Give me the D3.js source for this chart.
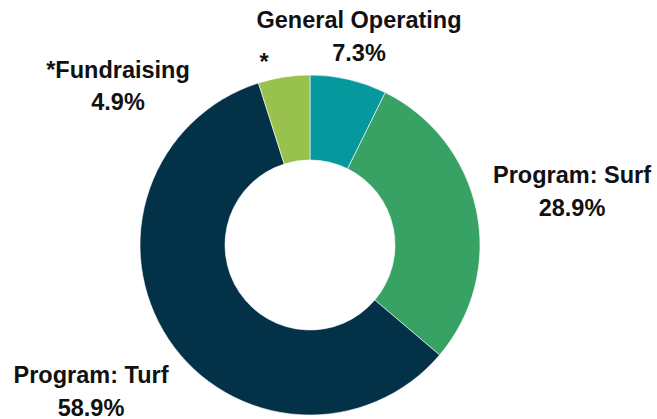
<!DOCTYPE html>
<html>
<head>
<meta charset="utf-8">
<script src="https://cdn.jsdelivr.net/npm/d3@7"></script>
<style>
  html, body { margin: 0; padding: 0; background: #fff; }
  svg { display: block; }
  text { font-family: "Liberation Sans", Arial, sans-serif; font-weight: bold; fill: #111; }
</style>
</head>
<body>
<svg id="chart" width="657" height="419"></svg>
<script>
// Data
const categories = ["General Operating", "Program: Surf", "Program: Turf", "*Fundraising"];
const values = [7.3, 28.9, 58.9, 4.9];
const valueLabels = ["7.3%", "28.9%", "58.9%", "4.9%"];

// Style / layout (not data)
const colors = ["#05989d", "#37a264", "#033148", "#98c14e"];
const W = 657, H = 419;
const cx = 310, cy = 245, outerR = 170, innerR = 85;
// label anchor positions (centre x, first-line baseline y)
const labelPos = [[359, 28], [572, 183], [91, 383], [118, 78]];

const svg = d3.select("#chart");
const g = svg.append("g").attr("transform", `translate(${cx},${cy})`);

const color = d3.scaleOrdinal().domain(categories).range(colors);
const pie = d3.pie().sort(null).value(d => d.value);
const arc = d3.arc().innerRadius(innerR).outerRadius(outerR);

const data = categories.map((c, i) => ({ cat: c, value: values[i], label: valueLabels[i] }));
const arcs = pie(data);

g.selectAll("path.slice")
  .data(arcs)
  .join("path")
  .attr("class", "slice")
  .attr("d", arc)
  .attr("fill", d => color(d.data.cat))
  .attr("stroke", "#ffffff")
  .attr("stroke-width", 0.6);

const fs = 23.5;
const labels = svg.selectAll("g.lbl")
  .data(arcs)
  .join("g")
  .attr("class", "lbl")
  .attr("transform", (d, i) => `translate(${labelPos[i][0]},${labelPos[i][1]})`);

labels.append("text")
  .attr("text-anchor", "middle")
  .attr("font-size", fs)
  .text(d => d.data.cat);
labels.append("text")
  .attr("text-anchor", "middle")
  .attr("font-size", fs)
  .attr("y", (d, i) => i === 3 ? 32 : 33)
  .text(d => d.data.label);

// asterisk marker near the Fundraising slice
svg.append("text")
  .attr("x", 264)
  .attr("y", 70)
  .attr("text-anchor", "middle")
  .attr("font-size", fs)
  .text("*");
</script>
</body>
</html>
